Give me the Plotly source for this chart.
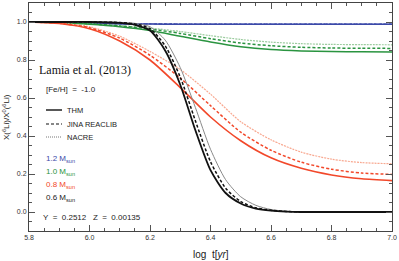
import plotly.graph_objects as go

# ---------------- data ----------------
LOGT = [5.8, 5.9, 6.0, 6.1, 6.2, 6.3, 6.4, 6.5, 6.6, 6.7, 6.8, 6.9, 7.0]

M12_THM = [1.0, 0.997, 0.993, 0.99, 0.989, 0.988, 0.988, 0.988, 0.988, 0.988, 0.988, 0.988, 0.988]
M12_JINA = [1.0, 0.997, 0.993, 0.991, 0.99, 0.989, 0.989, 0.989, 0.989, 0.989, 0.989, 0.989, 0.989]
M12_NACRE = [1.0, 0.998, 0.994, 0.992, 0.991, 0.99, 0.99, 0.99, 0.99, 0.99, 0.99, 0.99, 0.99]

M10_THM = [1.0, 0.996, 0.988, 0.975, 0.955, 0.925, 0.895, 0.87, 0.855, 0.848, 0.845, 0.843, 0.842]
M10_JINA = [1.0, 0.997, 0.99, 0.979, 0.963, 0.94, 0.912, 0.889, 0.875, 0.867, 0.863, 0.862, 0.861]
M10_NACRE = [1.0, 0.997, 0.991, 0.982, 0.968, 0.95, 0.928, 0.908, 0.894, 0.886, 0.882, 0.881, 0.88]

M08_THM = [1.0, 0.992, 0.965, 0.90, 0.80, 0.655, 0.50, 0.375, 0.285, 0.23, 0.195, 0.175, 0.165]
M08_JINA = [1.0, 0.993, 0.97, 0.915, 0.825, 0.705, 0.56, 0.42, 0.325, 0.262, 0.225, 0.205, 0.198]
M08_NACRE = [1.0, 0.994, 0.975, 0.925, 0.845, 0.75, 0.62, 0.475, 0.38, 0.315, 0.278, 0.26, 0.254]

LOGT_06 = [5.8, 5.9, 6.0, 6.1, 6.15, 6.2, 6.25, 6.3, 6.35, 6.4, 6.45, 6.5, 6.55, 6.6, 6.65, 6.7, 6.8, 6.9, 7.0]
M06_THM = [1.0, 1.0, 1.0, 0.995, 0.985, 0.955, 0.85, 0.67, 0.43, 0.22, 0.10, 0.045, 0.018, 0.007, 0.002, 0.0, 0.0, 0.0, 0.0]
M06_JINA = [1.0, 1.0, 1.0, 0.997, 0.99, 0.965, 0.875, 0.71, 0.48, 0.265, 0.125, 0.055, 0.022, 0.009, 0.003, 0.001, 0.0, 0.0, 0.0]
M06_NACRE = [1.0, 1.0, 1.0, 0.998, 0.993, 0.975, 0.905, 0.76, 0.55, 0.33, 0.17, 0.08, 0.035, 0.013, 0.004, 0.001, 0.0, 0.0, 0.0]

X_TICKS = [5.8, 6.0, 6.2, 6.4, 6.6, 6.8, 7.0]
X_TICK_LABELS = ["5.8", "6.0", "6.2", "6.4", "6.6", "6.8", "7.0"]
Y_TICKS = [0.0, 0.2, 0.4, 0.6, 0.8, 1.0]
Y_TICK_LABELS = ["0.0", "0.2", "0.4", "0.6", "0.8", "1.0"]

# ---------------- styles ----------------
BLUE, BLUE_L = "#3b49a8", "#8c95d0"
GREEN, GREEN_L = "#2a9440", "#9ccc9f"
RED, RED_L = "#f2482a", "#f8a890"
BLACK, GREY = "#111111", "#8a8a8a"
FONT = "Liberation Sans, Arial, sans-serif"
DASH = "3px,2px"
DOT = "2px,1px"

fig = go.Figure()


def add(x, y, color, dash, width):
    fig.add_trace(go.Scatter(
        x=x, y=y, mode="lines", showlegend=False, hoverinfo="skip",
        line=dict(color=color, dash=dash, width=width, shape="spline", smoothing=0.7)))


series = [
    (LOGT, M12_NACRE, BLUE_L, DOT, 1.0), (LOGT, M12_JINA, BLUE, DASH, 1.4), (LOGT, M12_THM, BLUE, "solid", 1.5),
    (LOGT, M10_NACRE, GREEN_L, DOT, 1.2), (LOGT, M10_JINA, GREEN, DASH, 1.5), (LOGT, M10_THM, GREEN, "solid", 1.5),
    (LOGT, M08_NACRE, RED_L, DOT, 1.2), (LOGT, M08_JINA, RED, DASH, 1.5), (LOGT, M08_THM, RED, "solid", 1.6),
    (LOGT_06, M06_NACRE, GREY, "solid", 1.0), (LOGT_06, M06_JINA, BLACK, DASH, 1.5), (LOGT_06, M06_THM, BLACK, "solid", 1.8),
]
for s in series:
    add(*s)

axis_common = dict(
    showgrid=False, zeroline=False, showline=True, linecolor="#444", linewidth=1,
    mirror="allticks", ticks="inside", ticklen=6, tickwidth=1, tickcolor="#555",
    tickfont=dict(family=FONT, size=7, color="#333"), automargin=False,
)
fig.update_xaxes(range=[5.8, 7.0], tickvals=X_TICKS, ticktext=X_TICK_LABELS,
                 minor=dict(dtick=0.05, ticks="inside", ticklen=3, tickcolor="#555", showgrid=False),
                 **axis_common)
fig.update_yaxes(range=[-0.1, 1.1], tickvals=Y_TICKS, ticktext=Y_TICK_LABELS,
                 minor=dict(dtick=0.05, ticks="inside", ticklen=3, tickcolor="#555", showgrid=False),
                 **axis_common)

W, H = 399, 261
L, R, T, B = 29, 7, 3, 30
pw, ph = W - L - R, H - T - B


def px(xp):
    return (xp - L) / pw


def py(yp):
    return 1 - (yp - T) / ph


def note(x, y, text, size=8, color="#222", family=FONT, xanchor="left", angle=0):
    fig.add_annotation(x=x, y=y, xref="paper", yref="paper", text=text, showarrow=False,
                       xanchor=xanchor, yanchor="middle", textangle=angle,
                       font=dict(family=family, size=size, color=color))


# axis titles
note(px(211), py(254), "log  t[<i>yr</i>]", size=10, xanchor="center")
note(px(6), py(117), "X(<sup>6</sup>Li)/X<sup>0</sup>(<sup>6</sup>Li)", size=8, xanchor="center", angle=-90)

note(px(37), py(69.5), "Lamia et al. (2013)", size=12, color="#111", family="Liberation Serif, Times New Roman, serif")
note(px(44), py(90), "[Fe/H]  =  -1.0", size=8)
legend_items = [("THM", "solid", BLACK, 110, 1.4), ("JINA REACLIB", DASH, BLACK, 124, 1.2), ("NACRE", "1px,1px", "#777", 137, 1.0)]
for label, dash, col, yp, wd in legend_items:
    fig.add_shape(type="line", xref="paper", yref="paper", x0=px(46), x1=px(62), y0=py(yp), y1=py(yp),
                  line=dict(color=col, dash=dash, width=wd))
    note(px(65), py(yp), label, size=7.5)

mass_items = [("1.2 M<sub>sun</sub>", BLUE, 159), ("1.0 M<sub>sun</sub>", GREEN, 172),
              ("0.8 M<sub>sun</sub>", RED, 185), ("0.6 M<sub>sun</sub>", "#222", 198)]
for label, col, yp in mass_items:
    note(px(44), py(yp), label, size=8, color=col)

note(px(41), py(217.5), "Y  =  0.2512   Z  =  0.00135", size=8)

fig.update_layout(
    width=W, height=H, margin=dict(l=L, r=R, t=T, b=B),
    paper_bgcolor="white", plot_bgcolor="white", showlegend=False,
)
fig.write_html("out.html", config={"displayModeBar": False},
               post_script="document.body.style.margin='0';document.body.style.overflow='hidden';")
